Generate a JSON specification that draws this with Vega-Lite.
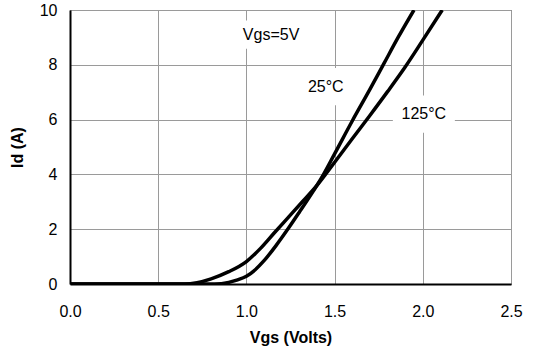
{
  "$schema": "https://vega.github.io/schema/vega-lite/v6.json",
  "autosize": "none",
  "width": 441,
  "height": 274,
  "padding": {"left": 70, "top": 10, "right": 27, "bottom": 68},
  "background": "white",
  "config": {
    "font": "Liberation Sans",
    "view": {"stroke": "#555555", "strokeWidth": 1},
    "axis": {
      "labelFont": "Liberation Sans",
      "titleFont": "Liberation Sans",
      "labelFontSize": 16,
      "titleFontSize": 16,
      "labelColor": "#000000",
      "titleColor": "#000000",
      "labelFlush": false,
      "gridColor": "#9a9a9a",
      "gridWidth": 1,
      "domainColor": "#000000",
      "domainWidth": 2,
      "ticks": false
    }
  },
  "datasets": {
    "curves": [
      {"temp": "25°C", "vgs": 0.0, "id": 0},
      {"temp": "25°C", "vgs": 0.5, "id": 0},
      {"temp": "25°C", "vgs": 0.82, "id": 0},
      {"temp": "25°C", "vgs": 0.9, "id": 0.06},
      {"temp": "25°C", "vgs": 0.95, "id": 0.15},
      {"temp": "25°C", "vgs": 1.0, "id": 0.28},
      {"temp": "25°C", "vgs": 1.05, "id": 0.52},
      {"temp": "25°C", "vgs": 1.1, "id": 0.85},
      {"temp": "25°C", "vgs": 1.17, "id": 1.42},
      {"temp": "25°C", "vgs": 1.24, "id": 2.05},
      {"temp": "25°C", "vgs": 1.3, "id": 2.62},
      {"temp": "25°C", "vgs": 1.38, "id": 3.4},
      {"temp": "25°C", "vgs": 1.43, "id": 3.92},
      {"temp": "25°C", "vgs": 1.5, "id": 4.75},
      {"temp": "25°C", "vgs": 1.6, "id": 5.95},
      {"temp": "25°C", "vgs": 1.7, "id": 7.1},
      {"temp": "25°C", "vgs": 1.78, "id": 8.05},
      {"temp": "25°C", "vgs": 1.86, "id": 9.0},
      {"temp": "25°C", "vgs": 1.95, "id": 10.0},
      {"temp": "125°C", "vgs": 0.0, "id": 0},
      {"temp": "125°C", "vgs": 0.5, "id": 0},
      {"temp": "125°C", "vgs": 0.65, "id": 0},
      {"temp": "125°C", "vgs": 0.72, "id": 0.05},
      {"temp": "125°C", "vgs": 0.8, "id": 0.19},
      {"temp": "125°C", "vgs": 0.9, "id": 0.45},
      {"temp": "125°C", "vgs": 1.0, "id": 0.82},
      {"temp": "125°C", "vgs": 1.08, "id": 1.3},
      {"temp": "125°C", "vgs": 1.16, "id": 1.88},
      {"temp": "125°C", "vgs": 1.24, "id": 2.45},
      {"temp": "125°C", "vgs": 1.32, "id": 3.02},
      {"temp": "125°C", "vgs": 1.4, "id": 3.6},
      {"temp": "125°C", "vgs": 1.46, "id": 4.1},
      {"temp": "125°C", "vgs": 1.53, "id": 4.7},
      {"temp": "125°C", "vgs": 1.6, "id": 5.3},
      {"temp": "125°C", "vgs": 1.7, "id": 6.15},
      {"temp": "125°C", "vgs": 1.8, "id": 7.02},
      {"temp": "125°C", "vgs": 1.9, "id": 7.92},
      {"temp": "125°C", "vgs": 2.0, "id": 8.9},
      {"temp": "125°C", "vgs": 2.11, "id": 10.0}
    ],
    "notes": [
      {"kind": "condition", "vgs": 1.14, "id": 9.1, "text": "Vgs=5V"},
      {"kind": "temp", "vgs": 1.45, "id": 7.2, "text": "25°C"},
      {"kind": "temp", "vgs": 2.006, "id": 6.2, "text": "125°C"}
    ]
  },
  "encoding": {
    "x": {
      "field": "vgs",
      "type": "quantitative",
      "scale": {"domain": [0, 2.5], "nice": false, "zero": false},
      "axis": {
        "title": "Vgs (Volts)",
        "values": [0, 0.5, 1, 1.5, 2, 2.5],
        "format": ".1f",
        "labelPadding": 19,
        "titlePadding": 10
      }
    },
    "y": {
      "field": "id",
      "type": "quantitative",
      "scale": {"domain": [0, 10], "nice": false},
      "axis": {
        "title": "Id (A)",
        "values": [0, 2, 4, 6, 8, 10],
        "labelPadding": 13,
        "titlePadding": 14
      }
    }
  },
  "layer": [
    {
      "data": {"name": "notes"},
      "transform": [{"filter": "datum.kind === 'temp'"}],
      "mark": {
        "type": "point",
        "filled": true,
        "fill": "white",
        "stroke": null,
        "opacity": 1,
        "shape": "M-1,-0.6L1,-0.6L1,0.6L-1,0.6Z",
        "size": 3844
      }
    },
    {
      "data": {"name": "notes"},
      "transform": [{"filter": "datum.kind === 'condition'"}],
      "mark": {
        "type": "point",
        "filled": true,
        "fill": "white",
        "stroke": null,
        "opacity": 1,
        "shape": "M-1,-0.39L1,-0.39L1,0.39L-1,0.39Z",
        "size": 5184
      }
    },
    {
      "data": {"name": "curves"},
      "mark": {
        "type": "line",
        "interpolate": "monotone",
        "color": "#000000",
        "strokeWidth": 3.5,
        "clip": true
      },
      "encoding": {
        "detail": {"field": "temp", "type": "nominal"}
      }
    },
    {
      "data": {"name": "notes"},
      "mark": {
        "type": "text",
        "font": "Liberation Sans",
        "fontSize": 16,
        "color": "#000000",
        "align": "center",
        "baseline": "middle"
      },
      "encoding": {
        "text": {"field": "text", "type": "nominal"}
      }
    }
  ]
}
